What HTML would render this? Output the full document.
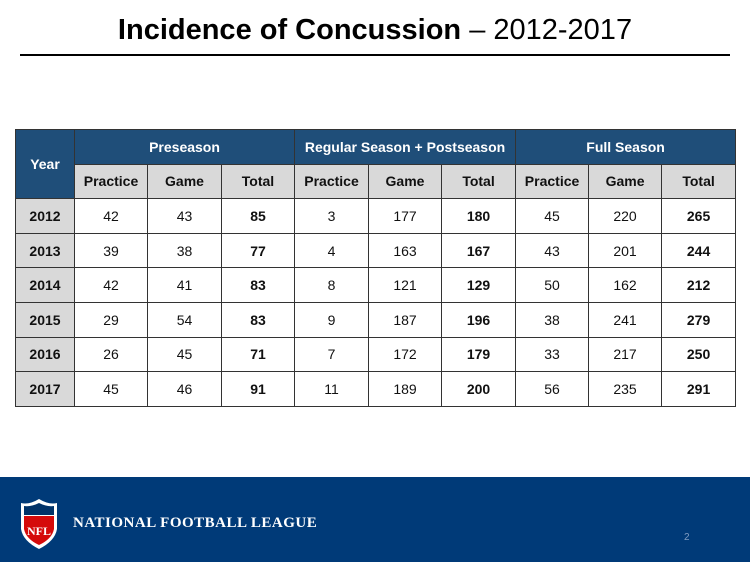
<!DOCTYPE html>
<html><head><meta charset="utf-8"><style>
body{margin:0;width:750px;height:562px;position:relative;background:#fff;font-family:"Liberation Sans",Arial,sans-serif;overflow:hidden}
#title{position:absolute;left:0;top:14px;width:750px;text-align:center;font-size:29px;color:#000}
#rule{position:absolute;left:20px;top:54px;width:710px;height:2px;background:#000}
table{position:absolute;left:15px;top:129px;border-collapse:collapse;table-layout:fixed;width:720px}
td{border:1px solid #333;text-align:center;font-size:14px;height:33.6px;padding:0;color:#111}
.h1{background:#1f4e79;color:#fff;font-weight:bold;font-size:14px}
.h2{background:#d9d9d9;font-weight:bold}
.yr{background:#d9d9d9;font-weight:bold}
.b{font-weight:bold}
#footer{position:absolute;left:0;top:477px;width:750px;height:85px;background:#003a78}
#nfl{position:absolute;left:73px;top:38px;color:#fff;font-family:"Liberation Serif",serif;font-weight:bold;font-size:15px;letter-spacing:0.5px}
#pg{position:absolute;left:684px;top:55px;color:#7f9cc0;font-size:10px}
</style></head><body>
<div id="title"><b>Incidence of Concussion</b> – 2012-2017</div>
<div id="rule"></div>
<table>
<colgroup><col style="width:59px"><col style="width:73px"><col style="width:74px"><col style="width:73px"><col style="width:74px"><col style="width:73px"><col style="width:74px"><col style="width:73px"><col style="width:73px"><col style="width:74px"></colgroup>
<tr><td class="h1" rowspan="2">Year</td><td class="h1" colspan="3">Preseason</td><td class="h1" colspan="3">Regular Season + Postseason</td><td class="h1" colspan="3">Full Season</td></tr>
<tr class="h2"><td>Practice</td><td>Game</td><td>Total</td><td>Practice</td><td>Game</td><td>Total</td><td>Practice</td><td>Game</td><td>Total</td></tr>
<tr><td class="yr">2012</td><td>42</td><td>43</td><td class="b">85</td><td>3</td><td>177</td><td class="b">180</td><td>45</td><td>220</td><td class="b">265</td></tr>
<tr><td class="yr">2013</td><td>39</td><td>38</td><td class="b">77</td><td>4</td><td>163</td><td class="b">167</td><td>43</td><td>201</td><td class="b">244</td></tr>
<tr><td class="yr">2014</td><td>42</td><td>41</td><td class="b">83</td><td>8</td><td>121</td><td class="b">129</td><td>50</td><td>162</td><td class="b">212</td></tr>
<tr><td class="yr">2015</td><td>29</td><td>54</td><td class="b">83</td><td>9</td><td>187</td><td class="b">196</td><td>38</td><td>241</td><td class="b">279</td></tr>
<tr><td class="yr">2016</td><td>26</td><td>45</td><td class="b">71</td><td>7</td><td>172</td><td class="b">179</td><td>33</td><td>217</td><td class="b">250</td></tr>
<tr><td class="yr">2017</td><td>45</td><td>46</td><td class="b">91</td><td>11</td><td>189</td><td class="b">200</td><td>56</td><td>235</td><td class="b">291</td></tr>
</table>
<div id="footer">
<svg style="position:absolute;left:19px;top:22px" width="40" height="50">
<path d="M2 4 Q10 6 20 0 Q30 6 38 4 L38 30 Q36 42 20 50 Q4 42 2 30 Z" fill="#fff"/>
<path d="M5 7 Q12 8 20 4 Q28 8 35 7 L35 16 L5 16 Z" fill="#013369"/>
<path d="M5 17 L35 17 L35 30 Q33 40 20 46 Q7 40 5 30 Z" fill="#d50a0a"/>
<text x="20" y="36" text-anchor="middle" font-family="Liberation Serif" font-weight="bold" font-size="12" fill="#fff">NFL</text>
</svg>
<div id="nfl">NATIONAL FOOTBALL LEAGUE</div>
<div id="pg">2</div>
</div>
</body></html>
